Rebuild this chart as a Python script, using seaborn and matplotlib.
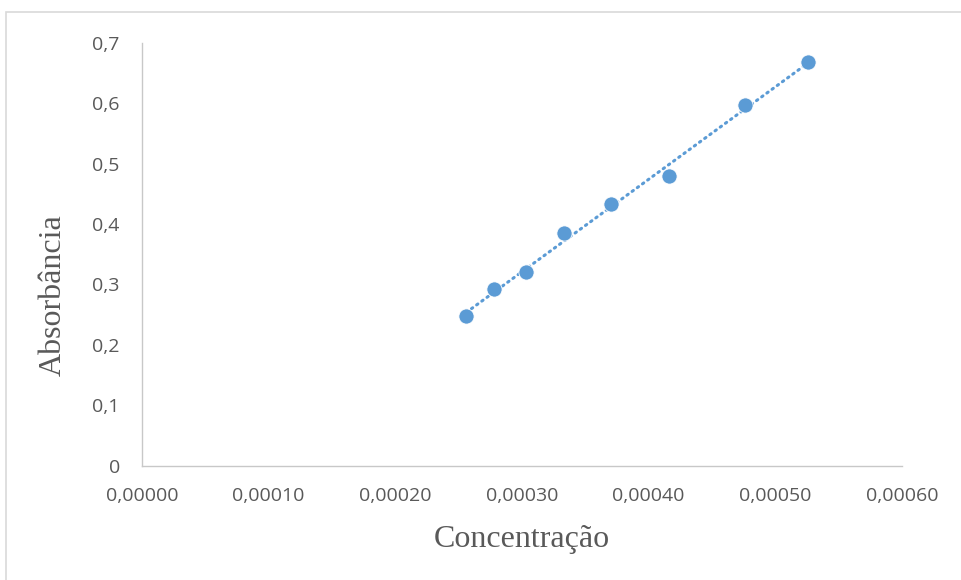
import seaborn as sns
import pandas as pd
import matplotlib.pyplot as plt
from matplotlib.patches import Rectangle
from matplotlib.ticker import FuncFormatter

concentracao = [0.000256, 0.0002777, 0.0003029, 0.0003332, 0.0003703, 0.000416, 0.000476, 0.000526]
absorbancia = [0.2477, 0.292, 0.3205, 0.3846, 0.433, 0.479, 0.597, 0.6675]

df = pd.DataFrame({"Concentração": concentracao, "Absorbância": absorbancia})

sns.set_theme(style="white")
plt.rcParams['font.family'] = ['Open Sans', 'DejaVu Sans']

fig = plt.figure(figsize=(9.61, 5.8), dpi=100)
ax = fig.add_axes([142 / 961, 1 - 465.7 / 580, 760 / 961, 423 / 580])

blue = "#5B9BD5"
# trendline first, points on top
sns.regplot(x="Concentração", y="Absorbância", data=df, ax=ax, ci=None, scatter=False,
            truncate=True, line_kws=dict(color=blue, linestyle=(0, (0.5, 1.6)),
                                         linewidth=2.2, dash_capstyle="round"))
sns.scatterplot(x="Concentração", y="Absorbância", data=df, ax=ax, color=blue,
                s=120, edgecolor="white", linewidth=0.6, zorder=3)

ax.set_xlim(0, 0.0006)
ax.set_ylim(0, 0.7)
ax.set_xticks([0, 0.0001, 0.0002, 0.0003, 0.0004, 0.0005, 0.0006])
ax.set_yticks([0, 0.1, 0.2, 0.3, 0.4, 0.5, 0.6, 0.7])
ax.xaxis.set_major_formatter(FuncFormatter(lambda v, p: f"{v:.5f}".replace(".", ",")))
ax.yaxis.set_major_formatter(FuncFormatter(lambda v, p: "0" if abs(v) < 1e-9 else f"{v:.1f}".replace(".", ",")))
ax.tick_params(axis="both", length=0, labelsize=14, labelcolor="#595959")
ax.tick_params(axis="x", pad=15)
ax.tick_params(axis="y", pad=16)

for s in ["top", "right"]:
    ax.spines[s].set_visible(False)
for s in ["left", "bottom"]:
    ax.spines[s].set_color("#c8c8c8")
    ax.spines[s].set_linewidth(1.0)

ax.set_xlabel("Concentração", family="Liberation Serif", fontsize=23, color="#595959", labelpad=15)
ax.set_ylabel("Absorbância", family="Liberation Serif", fontsize=23, color="#595959")
ax.yaxis.set_label_coords(-0.098, 0.4035)

fig.patches.append(Rectangle((6 / 961, -0.05), 1.1, 1 - 12 / 580 + 0.05, transform=fig.transFigure,
                             fill=False, edgecolor="#d9d9d9", linewidth=1.2))

plt.savefig("out.png", dpi=100)
